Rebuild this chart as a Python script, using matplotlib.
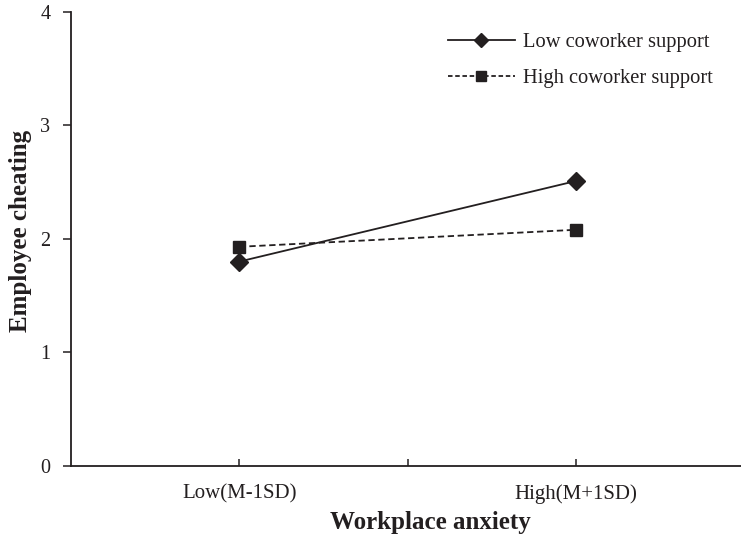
import matplotlib.pyplot as plt
from matplotlib.lines import Line2D

plt.rcParams['font.family'] = ['Liberation Serif', 'DejaVu Serif']

# data
categories = ['Low(M-1SD)', 'High(M+1SD)']
low_support = [1.80, 2.51]
high_support = [1.93, 2.08]
series_names = ['Low coworker support', 'High coworker support']

ink = '#231f20'
xpos = [1, 2]

fig = plt.figure(figsize=(7.41, 5.41), dpi=100)
ax = fig.add_axes([0.096, 0.139, 0.904, 0.839])

ax.plot(xpos, low_support, color=ink, lw=1.3, ls='-', marker='D', ms=9, zorder=3)
ax.plot(xpos, high_support, color=ink, lw=1.3, ls=(0, (3.5, 2)), marker='s', ms=8.5, zorder=3)

ax.set_xlim(0.5, 2.49)
ax.set_ylim(0, 4)
ax.set_yticks([0, 1, 2, 3, 4])
ax.set_xticks([1, 1.5, 2])
ax.set_xticklabels([categories[0], '', categories[1]])

for s in ['top', 'right']:
    ax.spines[s].set_visible(False)
for s in ['left', 'bottom']:
    ax.spines[s].set_color(ink)
    ax.spines[s].set_linewidth(1.3)

ax.tick_params(axis='y', direction='out', length=6, width=1.1, color=ink,
               labelsize=14.5, pad=9, labelcolor=ink)
ax.tick_params(axis='x', direction='in', length=5, width=1.1, color=ink,
               labelsize=15, pad=13, labelcolor=ink)

ax.set_ylabel('Employee cheating', fontsize=18, fontweight='bold', color=ink)
ax.set_xlabel('Workplace anxiety', fontsize=18, fontweight='bold', color=ink)
ax.yaxis.set_label_coords(-0.059, 0.518)
ax.xaxis.set_label_coords(0.536, -0.1)

handles = [
    Line2D([], [], color=ink, lw=1.3, ls='-', marker='D', ms=7),
    Line2D([], [], color=ink, lw=1.3, ls=(0, (2.5, 1.5)), marker='s', ms=7.5),
]
leg = ax.legend(handles, series_names, loc='upper right', bbox_to_anchor=(0.985, 0.995),
                frameon=False, fontsize=14.8, handlelength=3.3, labelspacing=0.8,
                handletextpad=0.35)
for t in leg.get_texts():
    t.set_color(ink)

fig.savefig('out.png', dpi=100)
